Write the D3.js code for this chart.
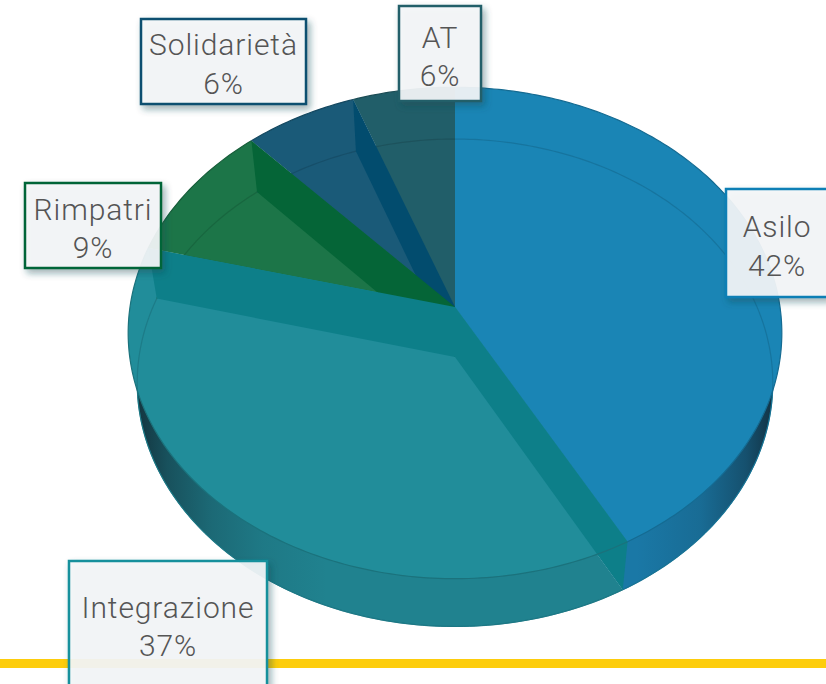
<!DOCTYPE html>
<html>
<head>
<meta charset="utf-8">
<script src="https://cdn.jsdelivr.net/npm/d3@7"></script>
<style>
  html, body { margin: 0; padding: 0; background: #fff; overflow: hidden; }
  svg { display: block; }
  .lbl { font-family: Roboto, sans-serif; font-weight: 300; font-size: 30px; letter-spacing: 0.9px; fill: #555; text-anchor: middle; }
</style>
</head>
<body>
<div id="chart"></div>
<script>
// chart values
var categories = ["Asilo", "Integrazione", "Rimpatri", "Solidarietà", "AT"];
var values = [42, 37, 9.2, 6.2, 5.6];
var percentLabels = ["42%", "37%", "9%", "6%", "6%"];

// slice colours: top face, side, radial wall, label border
var faceColors = ["#1a85b5", "#218d9a", "#1c7548", "#1a5a78", "#215e69"];
var sideColors = ["#1a78a6", "#20828f", "#1c7548", "#1a5a78", "#215e69"];
var wallColors = ["#0d7f89", "#0d7f89", "#056537", "#024c6e", "#215e69"];
var borderColors = ["#0b7fb5", "#17909c", "#056537", "#07506f", "#215e69"];

// label boxes, left/top/width/height, same order as categories
var labelBoxes = [
  [726, 189, 102, 108],
  [69, 561, 198, 130],
  [25, 183, 136, 85],
  [141, 19, 165, 85],
  [399, 6, 82, 95]
];
var labelBaselines = [[237, 276], [618, 656], [220, 258], [55, 94], [48, 86]];

var width = 826, height = 684;

// the disc is a circle seen in perspective, k moves the centre off the ellipse middle
var k = -0.1057;
var topDisc = {
  x: d3.scaleLinear().domain([-1, 1]).range([455 - 325, 455 + 325]),
  y: d3.scaleLinear().domain([-1, 1]).range([307 - 243, 307 + 243])
};
var bottomDisc = {
  x: d3.scaleLinear().domain([-1, 1]).range([455 - 316, 455 + 316]),
  y: d3.scaleLinear().domain([-1, 1]).range([357 - 241, 357 + 241])
};

function project(disc, angle, r) {
  var u = Math.sin(angle) * r, v = -Math.cos(angle) * r;
  var w = 1 + k * v;
  return [disc.x(u / w), disc.y(v / w)];
}

function rim(disc, a0, a1) {
  var n = Math.max(2, Math.ceil((a1 - a0) * 60));
  return d3.range(n + 1).map(function(i) {
    return project(disc, a0 + (a1 - a0) * i / n, 1);
  });
}

var line = d3.line();
var arcs = d3.pie().sort(null)(values);

var svg = d3.select("#chart").append("svg")
    .attr("width", width)
    .attr("height", height);

var defs = svg.append("defs");

// side gets dark towards both ends
var sideShade = defs.append("linearGradient")
    .attr("id", "sideShade")
    .attr("gradientUnits", "userSpaceOnUse")
    .attr("x1", 135).attr("x2", 778).attr("y1", 0).attr("y2", 0);
[[0, 0.8], [0.05, 0.5], [0.12, 0.25], [0.2, 0.09], [0.3, 0], [0.78, 0], [0.88, 0.14], [0.95, 0.45], [1, 0.85]].forEach(function(s) {
  sideShade.append("stop")
      .attr("offset", s[0])
      .attr("stop-color", "#10202a")
      .attr("stop-opacity", s[1]);
});

var shadow = defs.append("filter")
    .attr("id", "boxShadow")
    .attr("x", "-20%").attr("y", "-20%").attr("width", "140%").attr("height", "140%");
shadow.append("feDropShadow")
    .attr("dx", 3).attr("dy", 4).attr("stdDeviation", 3.5)
    .attr("flood-color", "#1f4a55").attr("flood-opacity", 0.45);

// yellow rule at the bottom
svg.append("rect")
    .attr("x", 0).attr("y", 659)
    .attr("width", width).attr("height", 9)
    .attr("fill", "#fdcd0c");

/***********lower disc, only its front shows as the side*********/
svg.selectAll(".side").data(arcs).enter().append("path")
    .attr("class", "side")
    .attr("d", function(d) {
      return line(rim(bottomDisc, d.startAngle, d.endAngle).concat([project(bottomDisc, 0, 0)])) + "Z";
    })
    .attr("fill", function(d, i) { return sideColors[i]; });

svg.append("path")
    .attr("d", line(rim(bottomDisc, 0, 2 * Math.PI)) + "Z")
    .attr("fill", "url(#sideShade)");

svg.append("path")
    .attr("d", line(rim(bottomDisc, 0, 2 * Math.PI)) + "Z")
    .attr("fill", "none")
    .attr("stroke", "#16798a")
    .attr("stroke-width", 1);

/***********top faces*********/
svg.selectAll(".face").data(arcs).enter().append("path")
    .attr("class", "face")
    .attr("d", function(d) {
      return line(rim(topDisc, d.startAngle, d.endAngle).concat([project(topDisc, 0, 0)])) + "Z";
    })
    .attr("fill", function(d, i) { return faceColors[i]; });

// lower rim seen through the top
svg.selectAll(".inner").data(arcs).enter().append("path")
    .attr("class", "inner")
    .attr("d", function(d) { return line(rim(bottomDisc, d.startAngle, d.endAngle)); })
    .attr("fill", "none")
    .attr("stroke", function(d, i) { return d3.color(faceColors[i]).darker(0.5); })
    .attr("stroke-opacity", 0.75)
    .attr("stroke-width", 1.2);

/***********radial walls, back to front*********/
var walls = [
  {angle: arcs[3].endAngle, color: wallColors[3]},
  {angle: arcs[2].endAngle, color: wallColors[2]},
  {angle: arcs[1].endAngle, color: wallColors[1]},
  {angle: arcs[1].startAngle, color: wallColors[0]}
];

svg.selectAll(".wall").data(walls).enter().append("path")
    .attr("class", "wall")
    .attr("d", function(d) {
      return line([
        project(topDisc, 0, 0),
        project(topDisc, d.angle, 1),
        project(bottomDisc, d.angle, 1),
        project(bottomDisc, 0, 0)
      ]) + "Z";
    })
    .attr("fill", function(d) { return d.color; });

// top rim line
svg.selectAll(".rim").data(arcs).enter().append("path")
    .attr("class", "rim")
    .attr("d", function(d) { return line(rim(topDisc, d.startAngle, d.endAngle)); })
    .attr("fill", "none")
    .attr("stroke", function(d, i) { return d3.color(faceColors[i]).darker(0.6); })
    .attr("stroke-width", 1.2);

/***********labels*********/
var labels = svg.selectAll(".label").data(categories).enter().append("g")
    .attr("class", "label");

labels.append("rect")
    .attr("x", function(d, i) { return labelBoxes[i][0]; })
    .attr("y", function(d, i) { return labelBoxes[i][1]; })
    .attr("width", function(d, i) { return labelBoxes[i][2]; })
    .attr("height", function(d, i) { return labelBoxes[i][3]; })
    .attr("fill", "rgba(245,247,249,0.91)")
    .attr("stroke", function(d, i) { return borderColors[i]; })
    .attr("stroke-width", 2.5)
    .attr("filter", "url(#boxShadow)");

labels.append("text")
    .attr("class", "lbl")
    .attr("x", function(d, i) { return labelBoxes[i][0] + labelBoxes[i][2] / 2; })
    .attr("y", function(d, i) { return labelBaselines[i][0]; })
    .text(function(d) { return d; });

labels.append("text")
    .attr("class", "lbl")
    .attr("x", function(d, i) { return labelBoxes[i][0] + labelBoxes[i][2] / 2; })
    .attr("y", function(d, i) { return labelBaselines[i][1]; })
    .text(function(d, i) { return percentLabels[i]; });
</script>
</body>
</html>
